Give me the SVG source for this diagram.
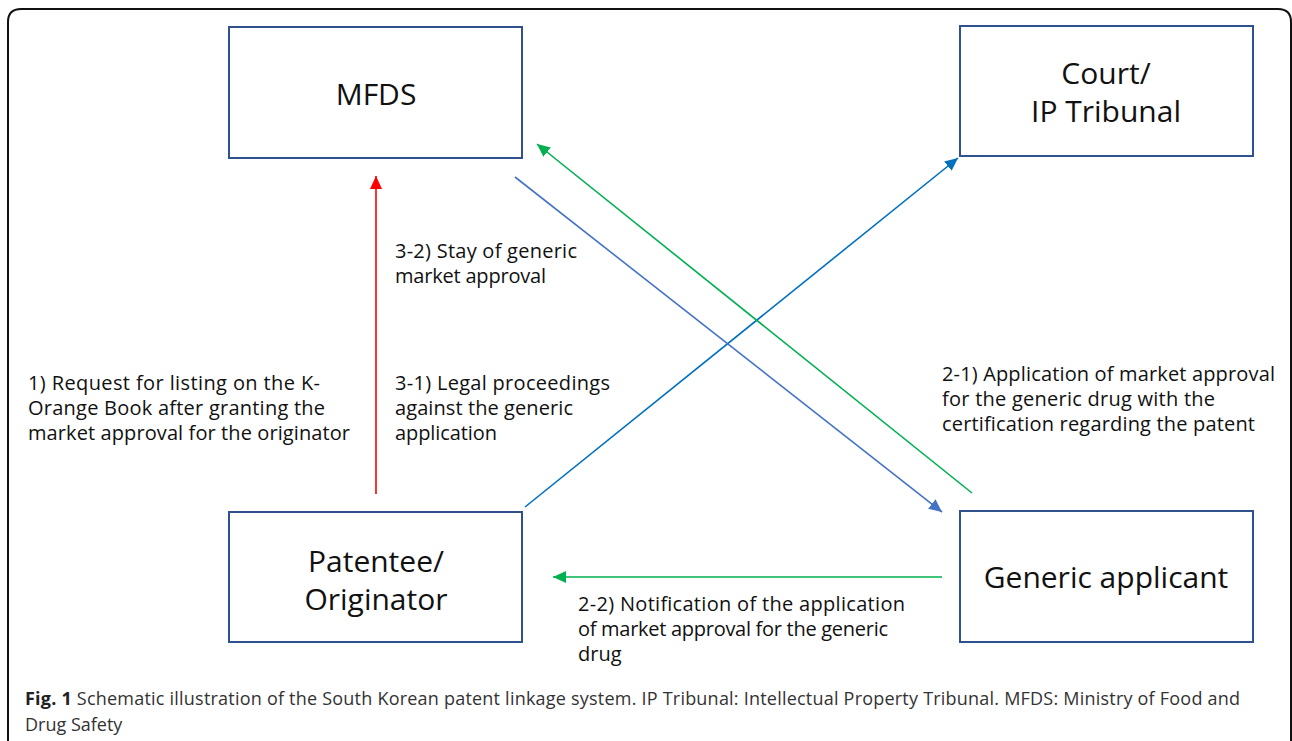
<svg xmlns="http://www.w3.org/2000/svg" width="1292" height="741" viewBox="0 0 1292 741">
<style>
.box{fill:#fff;stroke:#2F528F;stroke-width:2}
.nt{font-family:"Open Sans","Noto Sans",sans-serif;font-size:30px;fill:#111;text-anchor:middle}
.lb{font-family:"Open Sans","Noto Sans",sans-serif;font-size:20px;fill:#111}
.cap{font-family:"Open Sans","Noto Sans",sans-serif;font-size:18px;fill:#333}
.conn{fill:none;stroke-width:1.6}
</style>
<defs>
<marker id="mRed" markerUnits="userSpaceOnUse" markerWidth="14" markerHeight="12" refX="13" refY="6" orient="auto"><path d="M0,0 L13,6 L0,12 Z" fill="#FF0000"/></marker>
<marker id="mBlue" markerUnits="userSpaceOnUse" markerWidth="14" markerHeight="12" refX="13" refY="6" orient="auto"><path d="M0,0 L13,6 L0,12 Z" fill="#0070C0"/></marker>
<marker id="mPurple" markerUnits="userSpaceOnUse" markerWidth="14" markerHeight="12" refX="13" refY="6" orient="auto"><path d="M0,0 L13,6 L0,12 Z" fill="#4472C4"/></marker>
<marker id="mGreen" markerUnits="userSpaceOnUse" markerWidth="14" markerHeight="12" refX="13" refY="6" orient="auto"><path d="M0,0 L13,6 L0,12 Z" fill="#00B050"/></marker>
</defs>
<rect width="1292" height="741" fill="#fff"/>
<path d="M8,741 V22 Q8,9 21,9 H1278 Q1291,9 1291,22 V741" fill="none" stroke="#111" stroke-width="2"/>

<g id="node-mfds"><rect class="box" x="229" y="27" width="293" height="131"/><text class="nt" x="376" y="105">MFDS</text></g>
<g id="node-court"><rect class="box" x="960" y="26" width="293" height="130"/><text class="nt" x="1106" y="84">Court/</text><text class="nt" x="1106" y="122">IP Tribunal</text></g>
<g id="node-patentee"><rect class="box" x="229" y="512" width="293" height="130"/><text class="nt" x="376" y="572">Patentee/</text><text class="nt" x="376" y="610">Originator</text></g>
<g id="node-generic"><rect class="box" x="960" y="511" width="293" height="131"/><text class="nt" x="1106" y="588">Generic applicant</text></g>

<g id="connectors">
<line class="conn" x1="376" y1="494" x2="376" y2="176" stroke="#FF0000" marker-end="url(#mRed)"/>
<line class="conn" x1="525" y1="507" x2="958" y2="158" stroke="#0070C0" marker-end="url(#mBlue)"/>
<line class="conn" x1="515" y1="177" x2="942" y2="512" stroke="#4472C4" marker-end="url(#mPurple)"/>
<line class="conn" x1="972" y1="493" x2="537" y2="144" stroke="#00B050" marker-end="url(#mGreen)"/>
<line class="conn" x1="942" y1="577" x2="553" y2="577" stroke="#00B050" marker-end="url(#mGreen)"/>
</g>

<g id="labels">
<text class="lb" x="28" y="390" textLength="292" lengthAdjust="spacing">1) Request for listing on the K-</text>
<text class="lb" x="28" y="415" textLength="297" lengthAdjust="spacing">Orange Book after granting the</text>
<text class="lb" x="28" y="440" textLength="322" lengthAdjust="spacing">market approval for the originator</text>
<text class="lb" x="395" y="258" textLength="182" lengthAdjust="spacing">3-2) Stay of generic</text>
<text class="lb" x="395" y="283" textLength="151" lengthAdjust="spacing">market approval</text>
<text class="lb" x="395" y="390" textLength="215" lengthAdjust="spacing">3-1) Legal proceedings</text>
<text class="lb" x="395" y="415" textLength="178" lengthAdjust="spacing">against the generic</text>
<text class="lb" x="395" y="440" textLength="102" lengthAdjust="spacing">application</text>
<text class="lb" x="942" y="381" textLength="333" lengthAdjust="spacing">2-1) Application of market approval</text>
<text class="lb" x="942" y="406" textLength="273" lengthAdjust="spacing">for the generic drug with the</text>
<text class="lb" x="942" y="431" textLength="313" lengthAdjust="spacing">certification regarding the patent</text>
<text class="lb" x="578" y="611" textLength="327" lengthAdjust="spacing">2-2) Notification of the application</text>
<text class="lb" x="578" y="636" textLength="310" lengthAdjust="spacing">of market approval for the generic</text>
<text class="lb" x="578" y="661">drug</text>
</g>

<g id="caption">
<text class="cap" x="25" y="705" textLength="1215" lengthAdjust="spacing"><tspan font-weight="bold" fill="#222">Fig. 1</tspan> Schematic illustration of the South Korean patent linkage system. IP Tribunal: Intellectual Property Tribunal. MFDS: Ministry of Food and</text>
<text class="cap" x="25" y="731">Drug Safety</text>
</g>
</svg>
